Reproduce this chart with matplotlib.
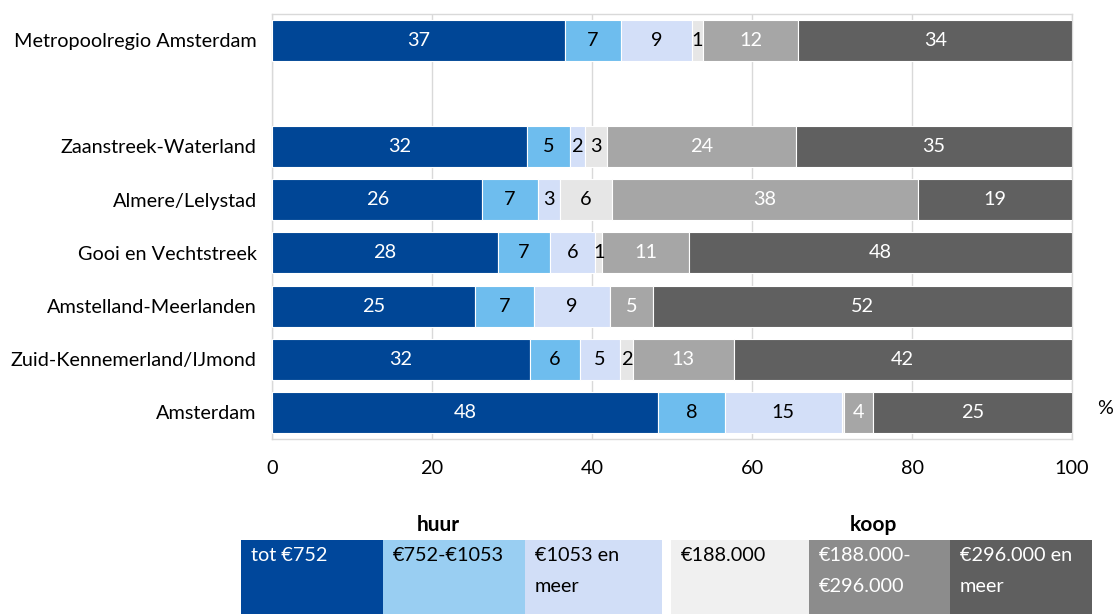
import matplotlib
matplotlib.use("Agg")
import matplotlib.pyplot as plt
from matplotlib.patches import Rectangle
import numpy as np

plt.rcParams['font.family'] = ['Lato', 'DejaVu Sans']

regions = ["Amsterdam", "Zuid-Kennemerland/IJmond", "Amstelland-Meerlanden",
           "Gooi en Vechtstreek", "Almere/Lelystad", "Zaanstreek-Waterland",
           "Metropoolregio Amsterdam"]
positions = [0, 1, 2, 3, 4, 5, 7]

huur_laag = [48.3, 32.2, 25.4, 28.2, 26.3, 31.9, 36.6]
huur_midden = [8.3, 6.3, 7.4, 6.6, 6.9, 5.3, 7.0]
huur_hoog = [14.6, 5.0, 9.4, 5.6, 2.75, 1.9, 8.9]
koop_laag = [0.3, 1.6, 0.0, 0.9, 6.5, 2.75, 1.4]
koop_midden = [3.6, 12.6, 5.4, 10.8, 38.3, 23.6, 11.9]
koop_hoog = [25.0, 42.3, 52.4, 47.9, 19.3, 34.55, 34.2]

series = [huur_laag, huur_midden, huur_hoog, koop_laag, koop_midden, koop_hoog]
bar_colors = ["#004696", "#6EBDEE", "#D3DFF8", "#E6E6E6", "#A6A6A6", "#606060"]
label_colors = ["white", "black", "black", "black", "white", "white"]

legend_labels = ["tot €752", "€752-€1053", "€1053 en\nmeer",
                 "€188.000", "€188.000-\n€296.000", "€296.000 en\nmeer"]
legend_colors = ["#00479B", "#99CEF2", "#D1DEF7", "#F0F0F0", "#8C8C8C", "#5F5F5F"]
legend_text_colors = ["white", "black", "black", "black", "white", "white"]
group_titles = ["huur", "koop"]

x_ticks = [0, 20, 40, 60, 80, 100]

FS = 14.3

fig = plt.figure(figsize=(11.13, 6.14), dpi=100)
ax = fig.add_axes([272 / 1113, 1 - 439 / 614, 800 / 1113, 425.5 / 614])

left = np.zeros(len(regions))
for vals, col, lcol in zip(series, bar_colors, label_colors):
    vals = np.array(vals)
    ax.barh(positions, vals, left=left, height=0.77, color=col,
            edgecolor="white", linewidth=0.8, zorder=3)
    for p, l, v in zip(positions, left, vals):
        if round(v) >= 1:
            ax.text(l + v / 2, p, f"{round(v):d}", ha="center", va="center",
                    color=lcol, fontsize=FS, zorder=4)
    left += vals

ax.set_xlim(0, 100)
ax.set_ylim(-0.5, 7.5)
ax.set_xticks(x_ticks)
ax.set_xticklabels([str(t) for t in x_ticks], fontsize=FS)
ax.set_yticks(positions)
ax.set_yticklabels(regions, fontsize=FS)
ax.tick_params(axis="both", length=0)
ax.tick_params(axis="x", pad=15)
ax.tick_params(axis="y", pad=11)
ax.grid(axis="x", color="#D9D9D9", linewidth=1, zorder=0)
for s in ax.spines.values():
    s.set_color("#D9D9D9")
    s.set_linewidth(1)

fig.text(1105 / 1113, 1 - 408 / 614, "%", fontsize=FS, ha="center", va="center")

# legend boxes below the chart
edges = [(241, 383), (383, 525), (525, 662), (671, 809), (809, 950), (950, 1092)]
W, H = 1113, 614
top_px, bot_px = 540, 614
for (x0, x1), c, lab, tc in zip(edges, legend_colors, legend_labels, legend_text_colors):
    fig.patches.append(Rectangle((x0 / W, 1 - bot_px / H), (x1 - x0) / W,
                                 (bot_px - top_px) / H, transform=fig.transFigure,
                                 facecolor=c, edgecolor="none"))
    fig.text((x0 + 10) / W, 1 - 547 / H, lab, color=tc, fontsize=FS,
             ha="left", va="top", linespacing=2.0)

fig.text(438 / W, 1 - 525 / H, group_titles[0], fontsize=15, fontweight="bold",
         ha="center", va="center")
fig.text(873 / W, 1 - 525 / H, group_titles[1], fontsize=15, fontweight="bold",
         ha="center", va="center")

fig.savefig("out.png", dpi=100)
